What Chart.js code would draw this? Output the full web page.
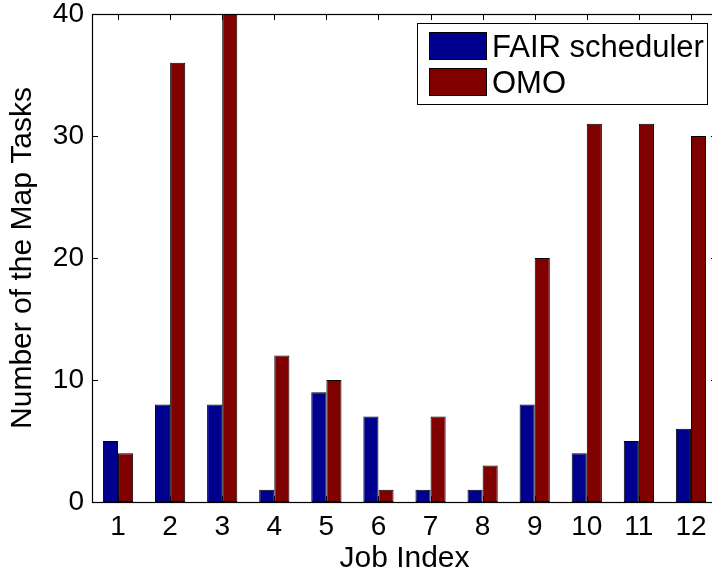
<!DOCTYPE html>
<html>
<head>
<meta charset="utf-8">
<script src="https://cdn.jsdelivr.net/npm/chart.js@4"></script>
<style>
  html, body { margin: 0; padding: 0; background: #fff; overflow: hidden; }
  #wrap { width: 712px; height: 574px; overflow: hidden; }
  canvas { display: block; }
</style>
</head>
<body>
<div id="wrap"><canvas id="chart" width="720" height="574"></canvas></div>
<script>
// values
const jobs = ['1', '2', '3', '4', '5', '6', '7', '8', '9', '10', '11', '12'];
const fairTasks = [5, 8, 8, 1, 9, 7, 1, 1, 8, 4, 5, 6];
const omoTasks = [4, 36, 40, 12, 10, 1, 7, 3, 20, 31, 31, 30];
const yTicks = [0, 10, 20, 30, 40];

const FONT = 'Liberation Sans, Arial, Helvetica, sans-serif';

// MATLAB style box: inward ticks, axis lines and an inside legend
const matlabAxes = {
  id: 'matlabAxes',
  beforeDatasetsDraw(chart) {
    const { ctx, chartArea: a, scales: { x, y } } = chart;
    ctx.save();
    ctx.strokeStyle = '#000';
    ctx.lineWidth = 1;
    ctx.beginPath();
    yTicks.forEach(v => {
      const py = Math.round(y.getPixelForValue(v)) + 0.5;
      ctx.moveTo(a.left, py); ctx.lineTo(a.left + 6, py);
      ctx.moveTo(a.right, py); ctx.lineTo(a.right - 6, py);
    });
    jobs.forEach((_, i) => {
      const px = Math.round(x.getPixelForValue(i)) + 0.5;
      ctx.moveTo(px, a.top); ctx.lineTo(px, a.top + 6);
      ctx.moveTo(px, a.bottom); ctx.lineTo(px, a.bottom - 6);
    });
    ctx.stroke();
    ctx.restore();
  },
  afterDatasetsDraw(chart) {
    const { ctx, chartArea: a } = chart;
    ctx.save();
    ctx.strokeStyle = '#000';
    ctx.lineWidth = 1.2;
    ctx.strokeRect(Math.round(a.left) + 0.5, Math.round(a.top) + 0.5,
      Math.round(a.right - a.left), Math.round(a.bottom - a.top));

    // legend
    const lx = 417, ly = 23, lw = 290, lh = 81;
    ctx.fillStyle = '#fff';
    ctx.fillRect(lx, ly, lw, lh);
    ctx.lineWidth = 1;
    ctx.strokeRect(lx + 0.5, ly + 0.5, lw, lh);
    ctx.font = '31px ' + FONT;
    ctx.textBaseline = 'alphabetic';
    chart.data.datasets.forEach((ds, i) => {
      const sy = 32 + i * 36;
      ctx.fillStyle = ds.backgroundColor;
      ctx.fillRect(429, sy, 57, 27);
      ctx.strokeStyle = '#000';
      ctx.strokeRect(429.5, sy + 0.5, 57, 27);
      ctx.fillStyle = '#000';
      ctx.fillText(ds.label, 492, sy + 25);
    });
    ctx.restore();
  }
};

new Chart(document.getElementById('chart'), {
  type: 'bar',
  data: {
    labels: jobs,
    datasets: [{
      label: 'FAIR scheduler',
      data: fairTasks,
      backgroundColor: '#00008f',
      borderColor: '#000',
      borderWidth: 1,
      borderSkipped: false,
    }, {
      label: 'OMO',
      data: omoTasks,
      backgroundColor: '#800000',
      borderColor: '#000',
      borderWidth: 1,
      borderSkipped: false,
    }],
  },
  options: {
    responsive: false,
    animation: false,
    layout: { padding: { left: 0, top: 0, right: 3, bottom: 0 } },
    datasets: { bar: { categoryPercentage: 0.58, barPercentage: 1.0 } },
    plugins: {
      legend: { display: false },
      tooltip: { enabled: false },
    },
    scales: {
      x: {
        grid: { display: false, drawTicks: false },
        border: { display: false },
        ticks: { color: '#000', font: { family: FONT, size: 28 }, padding: 8, maxRotation: 0 },
        title: { display: true, text: 'Job Index', color: '#000', font: { family: FONT, size: 30 }, padding: { top: 0, bottom: -3 } },
        afterFit(s) { s.height = 72; },
      },
      y: {
        min: 0,
        max: 40,
        grid: { display: false, drawTicks: false },
        border: { display: false },
        ticks: { stepSize: 10, color: '#000', font: { family: FONT, size: 28, lineHeight: 0.43 }, padding: 8 },
        title: { display: true, text: 'Number of the Map Tasks', color: '#000', font: { family: FONT, size: 30 }, padding: { top: 5, bottom: 0 } },
        afterFit(s) { s.width = 92; },
      },
    },
  },
  plugins: [matlabAxes],
});
</script>
</body>
</html>
